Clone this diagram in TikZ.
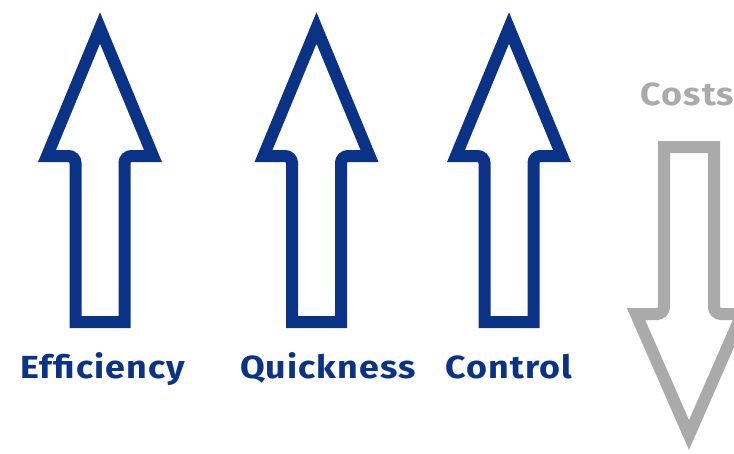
\documentclass[tikz,border=0pt]{standalone}
\usepackage{fontspec}
\setmainfont{Fira Sans}
\definecolor{navy}{RGB}{10,50,135}
\definecolor{lightgray}{RGB}{170,170,170}
\newcommand{\widetxt}[1]{\scalebox{1.12}[1]{#1}}
\tikzset{
  arrowshape/.style={line width=12pt, miter limit=10, line join=miter},
  lbl/.style={font=\fontsize{32}{32}\selectfont\bfseries\addfontfeatures{LetterSpace=3}, inner sep=0pt, anchor=base},
}
\newcommand{\uparrowshape}[2]{%
  \draw[arrowshape, draw=#2]
    (#1, 28) -- (#1+53, 156)
    [rounded corners=7pt] -- (#1+24.5, 156) [sharp corners] -- (#1+24.5, 322)
    -- (#1-24.5, 322)
    [rounded corners=7pt] -- (#1-24.5, 156) [sharp corners] -- (#1-53, 156) -- cycle;}
\begin{document}
\begin{tikzpicture}[x=1pt, y=-1pt]
\useasboundingbox (0,0) rectangle (734,453);
\clip (0,0) rectangle (734,453);
\uparrowshape{100}{navy}
\uparrowshape{316.5}{navy}
\uparrowshape{509}{navy}
% gray down arrow
\draw[arrowshape, draw=lightgray]
  (689, 435) -- (742, 314)
  [rounded corners=7pt] -- (714, 314) [sharp corners] -- (714, 147)
  -- (664, 147)
  [rounded corners=7pt] -- (664, 314) [sharp corners] -- (636, 314) -- cycle;
\node[lbl, text=navy] (eff) at (103, 378) {\widetxt{Efficiency}};
\node[lbl, text=navy] (qui) at (328, 378) {\widetxt{Quickness}};
\node[lbl, text=navy] (con) at (509, 378) {\widetxt{Control}};
\node[lbl, text=lightgray] (cos) at (687.5, 105) {\widetxt{Costs}};
\end{tikzpicture}
\end{document}
